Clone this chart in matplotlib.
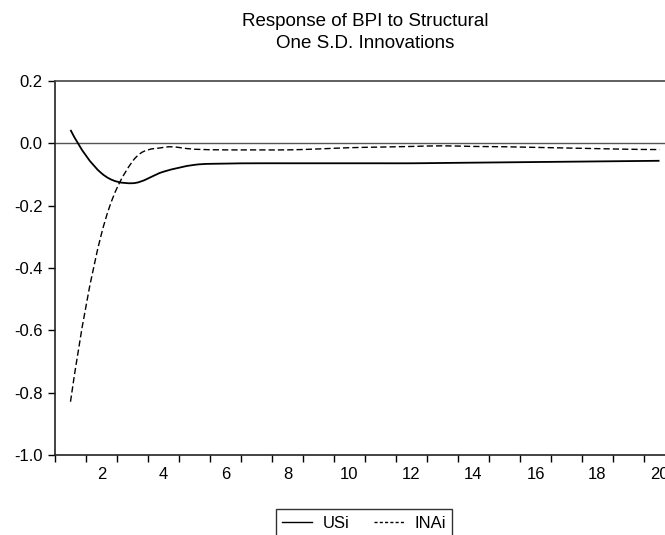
import matplotlib
matplotlib.use('Agg')
import matplotlib.pyplot as plt
import numpy as np
from matplotlib.path import Path
from matplotlib.patches import PathPatch
from matplotlib.lines import Line2D

# impulse responses, periods 1..20
periods = np.arange(1, 21)
usi = [0.043, -0.096, -0.128, -0.091, -0.069, -0.065, -0.064, -0.064, -0.064, -0.064,
       -0.064, -0.064, -0.063, -0.062, -0.061, -0.060, -0.059, -0.058, -0.057, -0.056]
inai = [-0.829, -0.290, -0.058, -0.013, -0.019, -0.021, -0.021, -0.021, -0.018, -0.014,
        -0.012, -0.010, -0.008, -0.010, -0.011, -0.013, -0.015, -0.017, -0.019, -0.020]
series_names = ['USi', 'INAi']
title_lines = ['Response of BPI to Structural', 'One S.D. Innovations']
xtick_labels = [2, 4, 6, 8, 10, 12, 14, 16, 18, 20]
ytick_values = [-1.0, -0.8, -0.6, -0.4, -0.2, 0.0, 0.2]


def smooth_path(x, y):
    # cubic (Catmull-Rom style) curve through the points
    x = np.asarray(x, float)
    y = np.asarray(y, float)
    m = np.empty_like(y)
    m[1:-1] = (y[2:] - y[:-2]) / 2
    m[0] = 2 * (y[1] - y[0]) - m[1]
    m[-1] = 2 * (y[-1] - y[-2]) - m[-2]
    verts = [(x[0], y[0])]
    codes = [Path.MOVETO]
    for i in range(len(x) - 1):
        h = x[i + 1] - x[i]
        verts += [(x[i] + h / 3, y[i] + m[i] * h / 3),
                  (x[i + 1] - h / 3, y[i + 1] - m[i + 1] * h / 3),
                  (x[i + 1], y[i + 1])]
        codes += [Path.CURVE4] * 3
    return Path(verts, codes)


def main():
    plt.rcParams['font.family'] = ['Liberation Sans', 'DejaVu Sans']
    plt.rcParams['font.size'] = 12

    fig = plt.figure(figsize=(6.65, 5.35), dpi=100)
    ax = fig.add_axes([55 / 665, 80 / 535, 620 / 665, 374 / 535])

    ax.axhline(0, color='#555555', lw=1.0, zorder=1)
    ax.add_patch(PathPatch(smooth_path(periods, usi), fill=False, color='black',
                           lw=1.3, zorder=3))
    ax.add_patch(PathPatch(smooth_path(periods, inai), fill=False, color='black',
                           lw=1.0, linestyle=(0, (4.5, 2.2)), zorder=3))

    ax.set_xlim(0.5, 20.5)
    ax.set_ylim(-1.0, 0.2)

    ax.set_xticks(np.arange(0.5, 21, 1))
    ax.set_xticklabels([])
    ax.set_xticks(xtick_labels, minor=True)
    ax.set_xticklabels([str(v) for v in xtick_labels], minor=True)
    ax.tick_params(axis='x', which='major', direction='out', length=5, width=1)
    ax.tick_params(axis='x', which='minor', length=0, pad=8.5)

    ax.set_yticks(ytick_values)
    ax.set_yticklabels(['%.1f' % v for v in ytick_values])
    ax.tick_params(axis='y', direction='out', length=5, width=1, pad=4)

    for side in ['left', 'bottom']:
        ax.spines[side].set_color('#222222')
        ax.spines[side].set_linewidth(1.2)
    for side in ['top', 'right']:
        ax.spines[side].set_color('#444444')
        ax.spines[side].set_linewidth(1.2)

    # two title lines, centred over the plot area
    fig.text(365 / 665, 1 - 26 / 535, title_lines[0], ha='center', va='baseline',
             fontsize=13.5)
    fig.text(365 / 665, 1 - 48 / 535, title_lines[1], ha='center', va='baseline',
             fontsize=13.5)

    handles = [Line2D([], [], color='black', lw=1.0),
               Line2D([], [], color='black', lw=1.0, linestyle=(0, (2.2, 1.6)))]
    leg = fig.legend(handles, series_names, loc='upper center',
                     bbox_to_anchor=(364 / 665, 26 / 535), ncol=2,
                     frameon=True, fancybox=False, handlelength=1.8,
                     handletextpad=0.6, columnspacing=1.5, borderpad=0.4,
                     borderaxespad=0)
    leg.get_frame().set_edgecolor('black')
    leg.get_frame().set_linewidth(1.0)

    fig.savefig('out.png', dpi=100)


if __name__ == '__main__':
    main()
